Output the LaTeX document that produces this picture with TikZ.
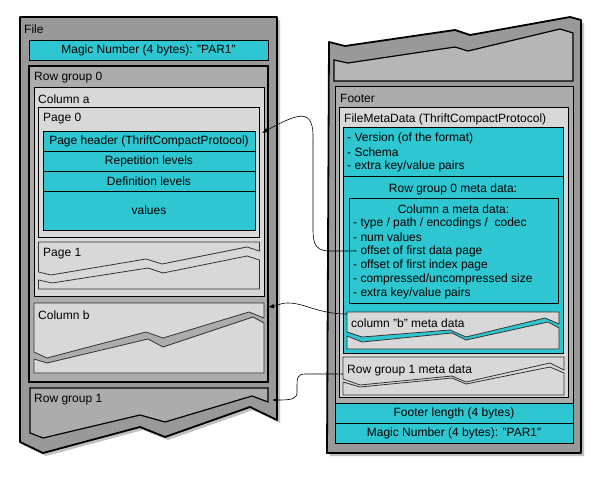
\documentclass[tikz,border=0pt]{standalone}
\usepackage{fontspec}
\setmainfont{Liberation Sans}
\usetikzlibrary{arrows.meta,shadows}

\definecolor{fileGray}{RGB}{153,153,153}
\definecolor{groupGray}{RGB}{172,172,172}
\definecolor{topGray}{RGB}{182,182,182}
\definecolor{pageGray}{RGB}{216,216,216}
\definecolor{metaCyan}{RGB}{46,198,208}

\tikzset{
  panel/.style={draw=black, line width=1.8pt, fill=fileGray, line join=round,
    drop shadow={shadow xshift=3pt, shadow yshift=-3pt, opacity=.35, fill=black!70}},
  groupbox/.style={draw=black, line width=1.4pt, fill=groupGray},
  pagebox/.style={draw=black, line width=.8pt, fill=pageGray},
  cutbox/.style={draw=black!80, line width=.8pt, line join=round},
  cyanbar/.style={draw=black, line width=.8pt, fill=metaCyan, inner sep=0pt},
  lbl/.style={anchor=west, inner sep=0pt},
  listline/.style={anchor=west, inner sep=0pt},
  link/.style={draw=black, line width=.6pt, -{Latex[length=6pt,width=4.5pt]}}
}

\begin{document}
\begin{tikzpicture}[x=1pt, y=-1pt, font=\fontsize{12}{14}\selectfont]
\useasboundingbox (0,0) rectangle (601,478);

\path[panel] (20,17) -- (277,17) -- (277,420) -- (250,407) -- (165,437) -- (140,427)
  -- (43,453) -- (20,442) -- cycle;
\node[lbl] (file) at (24,29) {File};
\node[cyanbar, minimum width=239pt, minimum height=20pt] (magicL) at (148.5,50) {Magic Number (4 bytes): "PAR1"};

\draw[groupbox] (29,66) rectangle (268,382);
\node[lbl] (rg0) at (34,78) {Row group 0};
\draw[pagebox] (34,87) rectangle (264,296);
\node[lbl] (cola) at (38,99) {Column a};
\draw[pagebox] (38.5,107) rectangle (259.5,237);
\node[lbl] (pg0) at (43,119) {Page 0};
\node[cyanbar, minimum width=212pt, minimum height=20pt] (pghdr) at (149,141) {Page header (ThriftCompactProtocol)};
\node[cyanbar, minimum width=212pt, minimum height=20pt] (replev) at (149,161) {Repetition levels};
\node[cyanbar, minimum width=212pt, minimum height=20pt] (deflev) at (149,181) {Definition levels};
\node[cyanbar, minimum width=212pt, minimum height=39pt] (vals) at (149,210.5) {values};
\coordinate (pg0tip) at (262,133);

\fill[pageGray] (38.5,242) rectangle (259.5,289);
\draw[cutbox] (38.5,272) -- (38.5,242) -- (259.5,242) -- (259.5,251) -- (247,247) -- (162,264)
  -- (146,259) -- (51,275) -- cycle;
\draw[cutbox] (38.5,280) -- (52,283) -- (148,268) -- (163,273) -- (247,256) -- (259.5,260)
  -- (259.5,289) -- (38.5,289) -- cycle;
\node[lbl] (pg1) at (43,254) {Page 1};

\draw[cutbox, fill=pageGray] (34,352) -- (34,303) -- (264,303) -- (264,318) -- (249,312) -- (163,338)
  -- (146,332) -- (47,358) -- cycle;
\draw[cutbox, fill=pageGray] (34,359) -- (47,363) -- (148,339) -- (163,347) -- (253,317) -- (264,323)
  -- (264,373) -- (34,373) -- cycle;
\node[lbl] (colb) at (38,315) {Column b};
\coordinate (colbtip) at (268,307);

\draw[groupbox, line width=1.2pt] (30,433) -- (30,388) -- (268,388) -- (268,402) -- (252,396) -- (165,422)
  -- (140,415) -- (43,438) -- cycle;
\node[lbl] (rg1) at (34,400) {Row group 1};
\coordinate (rg1tip) at (272,400);

\path[panel] (329,42) -- (345,46) -- (455,30) -- (470,35) -- (570,17) -- (581,20) -- (581,453)
  -- (327,453) -- cycle;
\draw[groupbox, fill=topGray, line width=1.2pt] (334,60) -- (348,63) -- (455,47) -- (468,51) -- (560,29)
  -- (573,33) -- (573,81) -- (334,81) -- cycle;

\draw[groupbox, line width=1pt] (335,87) rectangle (573,403);
\node[lbl] (footer) at (340,98) {Footer};
\draw[pagebox] (339,107) rectangle (568,397);
\node[lbl] (fmd) at (344,119) {FileMetaData (ThriftCompactProtocol)};
\draw[cyanbar] (343,127) rectangle (563,353);
\draw[black, line width=.8pt] (343,176) -- (563,176);
\foreach \t [count=\i] in {{- Version (of the format)}, {- Schema}, {- extra key/value pairs}}
  \node[listline] (ver\i) at (347,124+14*\i) {\t};
\node (rg0meta) at (453,189) {Row group 0 meta data:};
\draw[black, line width=.8pt] (349,198) rectangle (558,303);
\node (cameta) at (453.5,209) {Column a meta data:};
\foreach \t [count=\i] in {{- type / path / encodings /\ \ codec}, {- num values},
    {- offset of first data page}, {- offset of first index page},
    {- compressed/uncompressed size}, {- extra key/value pairs}}
  \node[listline] (cam\i) at (353,209+14*\i) {\t};

\draw[cutbox, fill=pageGray] (347,332) -- (347,312) -- (559,312) -- (559,324) -- (545,318) -- (466,337)
  -- (450,330) -- (362,337) -- cycle;
\draw[cutbox, fill=pageGray] (347,336) -- (362,342) -- (452,333) -- (466,340) -- (548,322) -- (559,328)
  -- (559,349) -- (347,349) -- cycle;
\node[lbl] (cbmeta) at (351,323) {column "b" meta data};
\coordinate (cbstart) at (347,314);

\draw[cutbox, fill=pageGray] (343,379) -- (343,357) -- (564,357) -- (564,370) -- (550,363) -- (466,382)
  -- (452,376) -- (360,385) -- cycle;
\draw[cutbox, fill=pageGray] (343,382) -- (360,387) -- (452,378) -- (466,384) -- (550,367) -- (564,373)
  -- (564,395) -- (343,395) -- cycle;
\node[lbl] (rg1meta) at (347,370) {Row group 1 meta data};
\coordinate (rg1start) at (343,374);

\node[cyanbar, minimum width=238pt, minimum height=20pt] (flen) at (454,413) {Footer length (4 bytes)};
\node[cyanbar, minimum width=238pt, minimum height=20pt] (magicR) at (454,433) {Magic Number (4 bytes): "PAR1"};

\draw[link] (cam3.west) -- (330,251) .. controls (312,251) and (313,240) .. (313,222)
  -- (313,140) .. controls (314,108) and (300,112) .. (pg0tip);
\draw[link] (cbstart) .. controls (318,314) and (305,303) .. (288,303)
  .. controls (280,303) and (276,306) .. (colbtip);
\draw[link] (rg1start) -- (305,374) .. controls (297,374) and (297,379) .. (297,386)
  -- (297,392) .. controls (297,399) and (292,400) .. (rg1tip);
\end{tikzpicture}
\end{document}
